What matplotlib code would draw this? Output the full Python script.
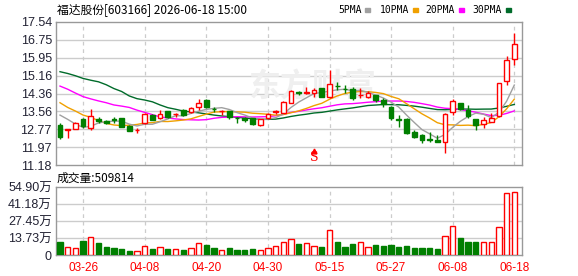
import numpy as np
import pandas as pd
import matplotlib
matplotlib.use('Agg')
import matplotlib.pyplot as plt
import matplotlib.transforms as mtransforms

plt.rcParams['font.family'] = ['Liberation Sans', 'Noto Sans CJK SC', 'DejaVu Sans']

# daily K-line, 03-23 .. 06-18
opens = [12.95, 12.74, 12.79, 13.22, 12.82, 13.21, 13.15, 13.21, 13.25, 12.93,
         12.72, 13.03, 13.40, 13.26, 13.58, 13.43, 13.62, 13.55, 13.76, 14.09,
         13.68, 13.56, 13.58, 13.27, 13.26, 13.25, 12.97, 13.25, 13.55, 13.51,
         13.95, 14.41, 14.39, 14.37, 14.59, 14.22, 14.71, 14.56, 14.56, 14.29,
         14.22, 14.29, 14.07, 13.77, 13.21, 13.23, 12.66, 12.51, 12.31, 12.29,
         12.22, 13.53, 13.92, 13.63, 13.21, 12.99, 13.11, 13.34, 14.90, 15.91]
highs = [13.03, 12.79, 13.08, 13.27, 13.65, 13.32, 13.18, 13.30, 13.28, 12.94,
         12.84, 13.48, 13.45, 13.63, 13.60, 13.51, 13.65, 13.78, 14.12, 14.10,
         13.74, 13.63, 13.60, 13.31, 13.32, 13.26, 13.22, 13.48, 13.63, 14.03,
         14.51, 14.49, 14.66, 14.59, 14.62, 15.40, 14.88, 14.74, 14.63, 14.60,
         14.45, 14.31, 14.14, 13.82, 13.40, 13.25, 12.74, 12.57, 12.64, 12.51,
         13.48, 14.10, 13.93, 13.85, 13.22, 13.33, 13.48, 14.84, 16.01, 17.05]
lows = [12.32, 12.36, 12.77, 12.83, 12.75, 13.05, 13.00, 13.03, 12.85, 12.68,
        12.62, 13.00, 13.16, 13.21, 13.27, 13.32, 13.38, 13.48, 13.63, 13.70,
        13.52, 13.40, 13.21, 13.06, 13.11, 12.96, 12.91, 13.21, 13.45, 13.50,
        13.92, 14.29, 14.34, 14.22, 14.22, 14.14, 14.52, 14.37, 14.07, 14.14,
        14.14, 14.00, 13.74, 13.18, 12.88, 12.58, 12.37, 12.17, 12.22, 12.21,
        11.73, 13.42, 13.64, 13.25, 12.74, 12.81, 13.09, 13.30, 14.72, 15.64]
closes = [12.43, 12.76, 13.07, 12.90, 13.37, 13.15, 13.04, 13.20, 12.89, 12.71,
          12.74, 13.43, 13.19, 13.45, 13.33, 13.45, 13.41, 13.72, 13.95, 13.74,
          13.67, 13.57, 13.31, 13.26, 13.20, 13.00, 13.21, 13.45, 13.57, 14.00,
          14.47, 14.40, 14.41, 14.52, 14.22, 14.78, 14.69, 14.54, 14.18, 14.30,
          14.36, 14.07, 13.89, 13.25, 13.20, 12.60, 12.43, 12.30, 12.30, 12.22,
          13.43, 14.02, 13.66, 13.36, 12.96, 13.18, 13.28, 14.83, 15.83, 16.55]
# volume in 万手
volumes = [10.5, 6.5, 5.7, 11.3, 14.5, 9.7, 6.5, 5.7, 4.8, 3.2,
           3.2, 7.3, 4.8, 6.5, 4.8, 4.8, 4.0, 5.7, 9.7, 8.1,
           5.7, 4.0, 5.7, 4.0, 4.0, 4.8, 4.0, 5.7, 7.3, 10.5,
           12.9, 8.9, 9.4, 7.3, 6.5, 19.9, 10.5, 6.5, 8.9, 10.2,
           6.5, 8.1, 7.3, 8.1, 6.5, 7.3, 5.7, 5.7, 5.7, 4.8,
           15.3, 23.1, 13.7, 10.5, 10.5, 10.5, 10.5, 22.6, 49.8, 50.98]

# MA values before the window fills
ma5_head = [13.40, 13.21, 13.00, 12.85]
ma10_head = [13.95, 13.74, 13.58, 13.40, 13.30, 13.15, 13.03, 12.96, 12.93]
ma20_head = [14.69, 14.55, 14.38, 14.22, 14.12, 14.03, 13.95, 13.85, 13.80, 13.74,
             13.62, 13.52, 13.42, 13.32, 13.27, 13.23, 13.20, 13.19, 13.18]
ma30_head = [15.33, 15.25, 15.15, 15.03, 14.95, 14.88, 14.75, 14.58, 14.45, 14.25,
             14.13, 14.07, 13.99, 13.85, 13.73, 13.66, 13.58, 13.54, 13.50, 13.45,
             13.40, 13.36, 13.33, 13.30, 13.27, 13.24, 13.21, 13.21, 13.22]

date_pos = [3, 11, 19, 27, 35, 43, 51, 59]
date_labels = ['03-26', '04-08', '04-20', '04-30', '05-15', '05-27', '06-08', '06-18']
price_ticks = [11.18, 11.97, 12.77, 13.56, 14.36, 15.16, 15.95, 16.75, 17.54]
vol_ticks = [0, 13.73, 27.45, 41.18, 54.90]

df = pd.DataFrame({'open': opens, 'high': highs, 'low': lows,
                   'close': closes, 'vol': volumes})

def ma(n, head):
    m = df['close'].rolling(n).mean().to_numpy()
    m[:n - 1] = head
    return m

RED = '#ff0000'
GREEN = '#007f00'
x = np.arange(len(df))
up = (df['close'] >= df['open']).to_numpy()
edge = np.where(up, RED, GREEN)
face = np.where(up, 'white', GREEN)

fig = plt.figure(figsize=(5.78, 2.76), dpi=100)
ax = fig.add_axes([56/578, 1-165/276, 466/578, 143/276])
axv = fig.add_axes([56/578, 1-255/276, 466/578, 68/276])

for a in (ax, axv):
    a.set_xlim(-0.52, 60.0)
    for s in a.spines.values():
        s.set_color('#999999')
        s.set_linewidth(1)
    a.tick_params(length=0, labelsize=9, colors='#222233', pad=3)
    a.set_xticks(date_pos)
    for p in date_pos:
        a.axvline(p, color='#cccccc', lw=0.9, ls=(0, (3, 3)), zorder=0)

# price panel
ax.set_ylim(11.18, 17.54)
ax.set_yticks(price_ticks)
ax.set_yticklabels(['%.2f' % t for t in price_ticks])
ax.set_xticklabels([])
for t in price_ticks[1:-1]:
    ax.axhline(t, color='#cccccc', lw=1, zorder=0)

ax.text(0.55, 0.54, '东方财富', transform=ax.transAxes, ha='center', va='center',
        fontsize=23, fontweight='bold', color='#efefef', zorder=0,
        family=['Noto Sans CJK SC'])

ax.plot(x, ma(30, ma30_head), color='#006b2a', lw=1, zorder=1)
ax.plot(x, ma(20, ma20_head), color='#ff00ff', lw=1, zorder=1)
ax.plot(x, ma(10, ma10_head), color='#f0a000', lw=1, zorder=1)
ax.plot(x, ma(5, ma5_head), color='#a0a0a0', lw=1, zorder=1)

ax.vlines(x, df['low'], df['high'], colors=edge, lw=1, zorder=2)
body = np.maximum((df['close'] - df['open']).abs().to_numpy(), 0.015)
ax.bar(x, body, bottom=np.minimum(df['open'], df['close']), width=0.62,
       facecolor=face, edgecolor=edge, lw=1, zorder=3)

trans = mtransforms.blended_transform_factory(ax.transData, ax.transAxes)
ax.plot([33], [0.10], marker='^', color=RED, ms=3.5, transform=trans)
ax.text(33, 0.055, 'S', transform=trans, color=RED, fontsize=9, ha='center', va='center',
        family=['DejaVu Serif'])

# volume panel
axv.set_ylim(0, 54.90)
axv.set_yticks(vol_ticks)
axv.set_yticklabels(['0'] + ['%.2f万' % t for t in vol_ticks[1:]])
axv.set_xticklabels(date_labels, fontsize=8.5, color=RED)
axv.tick_params(axis='x', pad=5)
for t in vol_ticks[1:-1]:
    axv.axhline(t, color='#cccccc', lw=1, zorder=0)
axv.bar(x, df['vol'], width=0.68, facecolor=face, edgecolor=edge, lw=1, zorder=3)

# header texts
fig.text(57/578, 1-10/276, '福达股份[603166] 2026-06-18 15:00', fontsize=8.5,
         va='center', family=['Noto Sans CJK SC'])
fig.text(57/578, 1-178/276, '成交量:509814', fontsize=8.5, va='center',
         family=['Noto Sans CJK SC'])
legend = [('5PMA', 338, 365, '#a0a0a0'), ('10PMA', 380, 413, '#f0a000'),
          ('20PMA', 425, 459, '#ff00ff'), ('30PMA', 472, 506, '#006b2a')]
for name, px, sx, col in legend:
    fig.text(px/578, 1-10/276, name, fontsize=7, va='center',
             family=['DejaVu Sans Mono'])
    fig.patches.append(plt.Rectangle((sx/578, 1-12/276), 5/578, 4/276,
                                     transform=fig.transFigure, color=col))

fig.savefig('out.png', dpi=100)
